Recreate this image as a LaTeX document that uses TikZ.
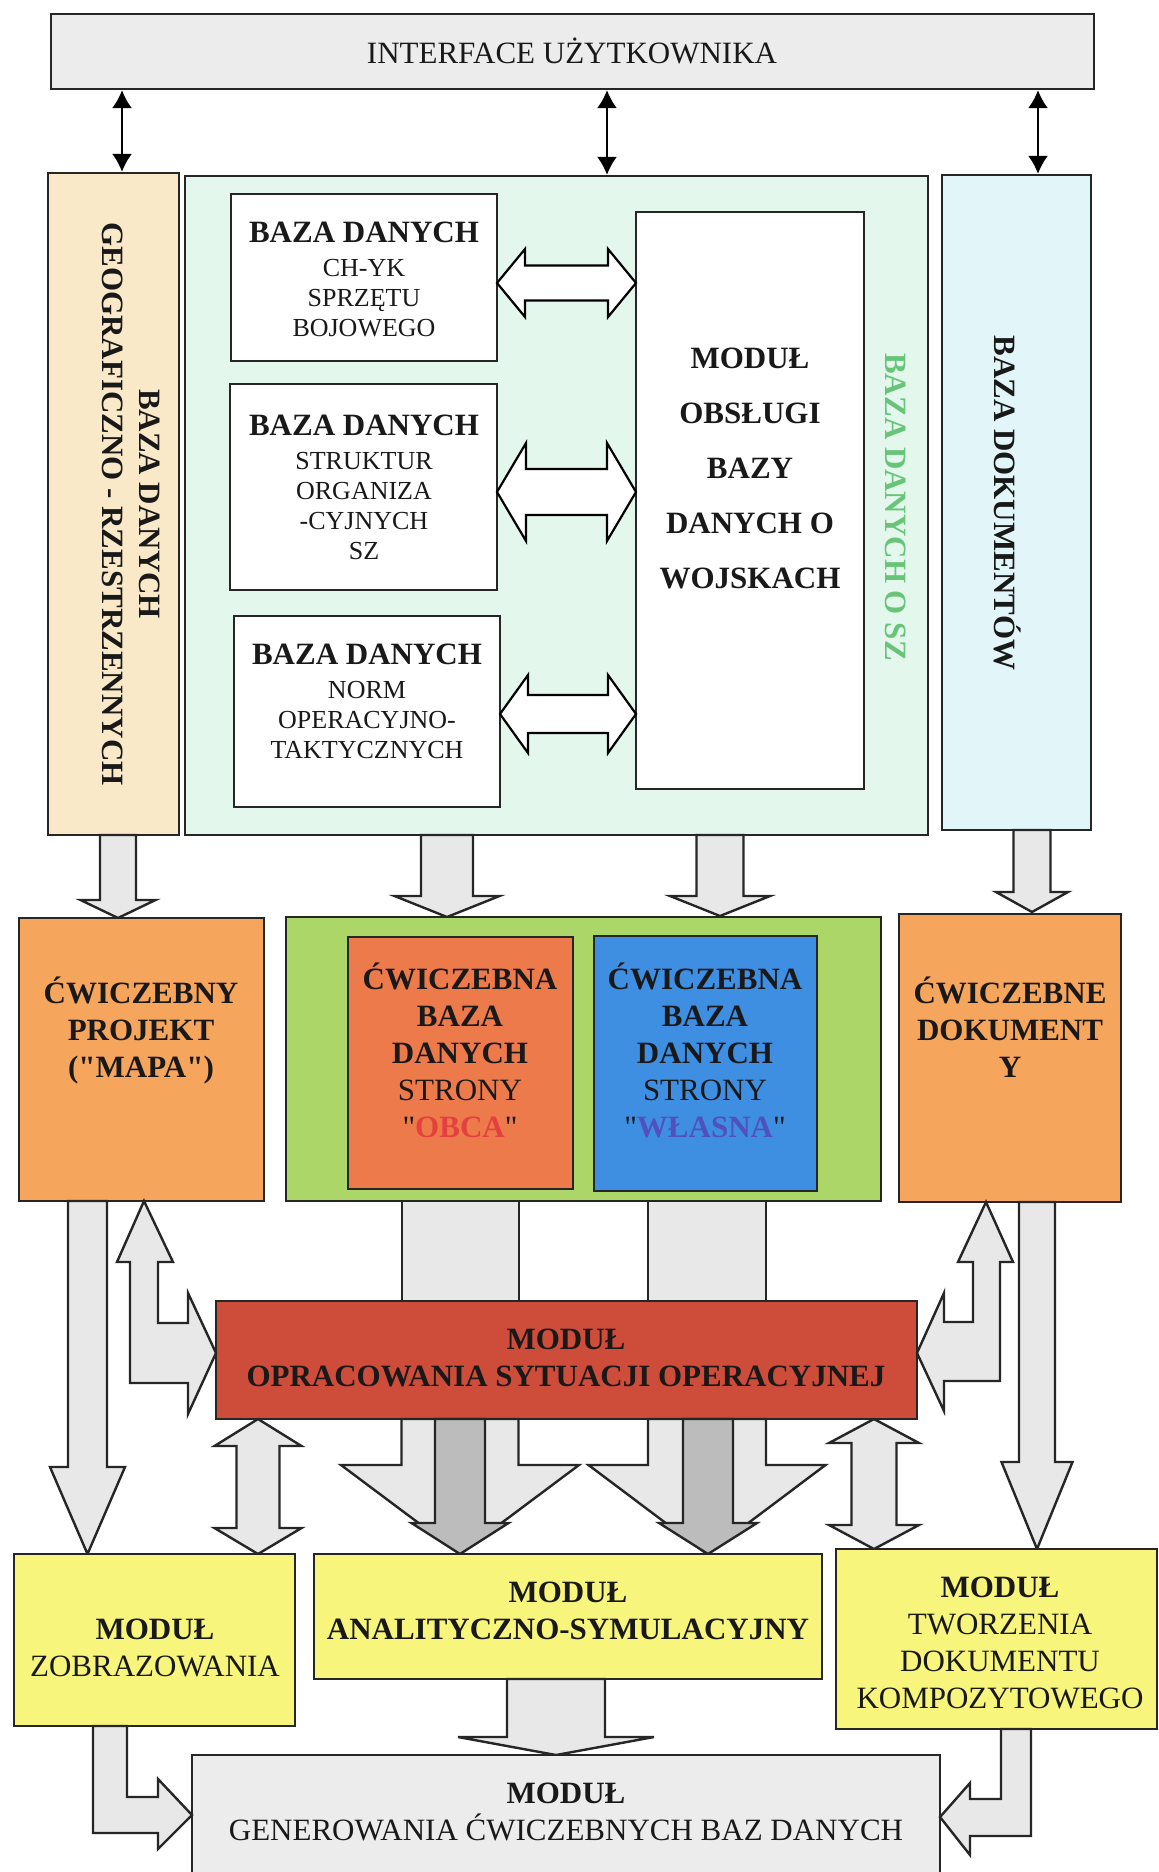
\documentclass[tikz,border=0pt]{standalone}
\usepackage{fontspec}
\setmainfont{Liberation Serif}[Ligatures=TeXOff]
\usetikzlibrary{arrows.meta,fit,calc}

\definecolor{txtcol}{RGB}{25,25,25}
\definecolor{ifgray}{RGB}{236,236,236}
\definecolor{geocol}{RGB}{249,233,200}
\definecolor{szcol}{RGB}{228,247,236}
\definecolor{dokcol}{RGB}{226,245,248}
\definecolor{sztext}{RGB}{104,196,120}
\definecolor{orangeA}{RGB}{246,166,92}
\definecolor{greenB}{RGB}{172,214,104}
\definecolor{obcacol}{RGB}{236,122,74}
\definecolor{wlcol}{RGB}{62,142,226}
\definecolor{obcared}{RGB}{228,64,64}
\definecolor{wlblue}{RGB}{80,80,190}
\definecolor{redmod}{RGB}{206,76,58}
\definecolor{yel}{RGB}{248,245,124}
\definecolor{arrgray}{RGB}{232,232,232}
\definecolor{arrdark}{RGB}{188,188,188}

\newcommand\fbold{\fontsize{15.5}{18.5}\selectfont\bfseries}
\newcommand\freg{\fontsize{15.5}{18.5}\selectfont}
\newcommand\fsmall{\fontsize{13}{15}\selectfont}

% down block arrow: x, ytop, ytip, shaft half, head half, head length, style
\newcommand\mkdarr[7]{%
  \path[#7] (#1-#4,#2) -- (#1-#4,#3-#6) -- (#1-#5,#3-#6) -- (#1,#3)
    -- (#1+#5,#3-#6) -- (#1+#4,#3-#6) -- (#1+#4,#2) -- cycle;}
% vertical double block arrow: x, ytop tip, ybottom tip, shaft half, head half, top head len, bottom head len
\newcommand\mkvdarr[7]{%
  \path[blk] (#1,#2) -- (#1+#5,#2+#6) -- (#1+#4,#2+#6) -- (#1+#4,#3-#7)
    -- (#1+#5,#3-#7) -- (#1,#3) -- (#1-#5,#3-#7) -- (#1-#4,#3-#7)
    -- (#1-#4,#2+#6) -- (#1-#5,#2+#6) -- cycle;}
% horizontal hollow double arrow: x1, x2, yc, shaft half, head half, head length
\newcommand\mkhdarr[6]{%
  \path[hol] (#1,#3) -- (#1+#6,#3-#5) -- (#1+#6,#3-#4) -- (#2-#6,#3-#4)
    -- (#2-#6,#3-#5) -- (#2,#3) -- (#2-#6,#3+#5) -- (#2-#6,#3+#4)
    -- (#1+#6,#3+#4) -- (#1+#6,#3+#5) -- cycle;}

\tikzset{
  box/.style={draw=black!85, line width=1.2pt, inner sep=0pt},
  blk/.style={draw=black!85, line width=1.2pt, fill=arrgray, line join=miter},
  blkdark/.style={draw=black!85, line width=1.2pt, fill=arrdark, line join=miter},
  hol/.style={draw=black, line width=1.1pt, fill=white, line join=miter},
  thinarr/.style={line width=0.9pt, draw=black,
    {Latex[length=9pt,width=10pt]}-{Latex[length=9pt,width=10pt]}},
  txt/.style={align=center, text=txtcol, inner sep=0pt},
}

\begin{document}
\begin{tikzpicture}[x=0.5pt,y=-0.5pt]
\useasboundingbox (0,0) rectangle (1158,1872);
\clip (0,0) rectangle (1158,1872);
\fill[white] (0,0) rectangle (1158,1872);

% ---------- top interface ----------
\node[box, fill=ifgray, fit={(51,14) (1094,89)}] (iface) {};
\node[txt, font=\freg] (iface-t) at (572,51) {INTERFACE UŻYTKOWNIKA};

% ---------- columns ----------
\node[box, fill=geocol, fit={(48,173) (179,835)}] (geo) {};
\node[box, fill=szcol, fit={(185,176) (928,835)}] (sz) {};
\node[box, fill=dokcol, fit={(942,175) (1091,830)}] (dok) {};

\node[txt, rotate=-90, font=\fbold] (geo-t) at (131,504)
  {BAZA DANYCH\\GEOGRAFICZNO - RZESTRZENNYCH};
\node[txt, rotate=-90, font=\fbold, text=sztext] (sz-t) at (896,507) {BAZA DANYCH O SZ};
\node[txt, rotate=-90, font=\fbold] (dok-t) at (1008,503) {BAZA DOKUMENTÓW};

% thin arrows
\coordinate (t1) at (122,0);
\coordinate (t2) at (607,0);
\coordinate (t3) at (1038,0);
\draw[thinarr] (iface.south -| t1) -- (geo.north -| t1);
\draw[thinarr] (iface.south -| t2) -- (sz.north -| t2);
\draw[thinarr] (iface.south -| t3) -- (dok.north -| t3);

% inner boxes
\node[box, fill=white, fit={(231,194) (497,361)}] (b1) {};
\node[box, fill=white, fit={(230,384) (497,590)}] (b2) {};
\node[box, fill=white, fit={(234,616) (500,807)}] (b3) {};
\node[box, fill=white, fit={(636,212) (864,789)}] (mod) {};

\node[txt, font=\fsmall] (b1-t) at (364,279)
  {{\fbold BAZA DANYCH}\\[2pt]CH-YK\\SPRZĘTU\\BOJOWEGO};
\node[txt, font=\fsmall] (b2-t) at (364,487)
  {{\fbold BAZA DANYCH}\\[2pt]STRUKTUR\\ORGANIZA\\-CYJNYCH\\SZ};
\node[txt, font=\fsmall] (b3-t) at (367,701)
  {{\fbold BAZA DANYCH}\\[2pt]NORM\\OPERACYJNO-\\TAKTYCZNYCH};
\node[txt, font=\fontsize{15.5}{27.5}\selectfont\bfseries] (mod-t) at (750,468)
  {MODUŁ\\OBSŁUGI\\BAZY\\DANYCH O\\WOJSKACH};

% hollow double arrows
\mkhdarr{497}{636}{283}{17.5}{34}{28}
\mkhdarr{497}{636}{492}{23}{49}{29}
\mkhdarr{500}{636}{714}{19}{39}{28}

% ---------- arrows row1 -> row2 ----------
\mkdarr{118}{835}{918}{18}{37.5}{18}{blk}
\mkdarr{447}{835}{917}{26}{52.5}{21}{blk}
\mkdarr{720}{835}{916}{23.5}{50}{20}{blk}
\mkdarr{1032}{830}{912}{18.5}{36}{20}{blk}

% ---------- row 2 ----------
\node[box, fill=orangeA, fit={(19,918) (264,1201)}] (proj) {};
\node[box, fill=greenB, fit={(286,917) (881,1201)}] (cwb) {};
\node[box, fill=obcacol, fit={(348,937) (573,1189)}] (obca) {};
\node[box, fill=wlcol, fit={(594,936) (817,1191)}] (wl) {};
\node[box, fill=orangeA, fit={(899,914) (1121,1202)}] (cdok) {};

\node[txt, font=\fbold] (proj-t) at (141,1030) {ĆWICZEBNY\\PROJEKT\\("MAPA")};
\node[txt, font=\freg] (obca-t) at (460,1050)
  {{\bfseries ĆWICZEBNA}\\{\bfseries BAZA}\\{\bfseries DANYCH}\\STRONY\\"\textcolor{obcared}{\bfseries OBCA}"};
\node[txt, font=\freg] (wl-t) at (705,1050)
  {{\bfseries ĆWICZEBNA}\\{\bfseries BAZA}\\{\bfseries DANYCH}\\STRONY\\"\textcolor{wlblue}{\bfseries WŁASNA}"};
\node[txt, font=\fbold] (cdok-t) at (1010,1027) {ĆWICZEBNE\\DOKUMENT\\Y};

% wide shafts into red module
\path[blk] (402,1201) rectangle (519,1301);
\path[blk] (648,1201) rectangle (766,1301);

% ---------- red module ----------
\node[box, fill=redmod, fit={(216,1301) (917,1419)}] (opr) {};
\node[txt, font=\fbold] (opr-t) at (566,1358) {MODUŁ\\OPRACOWANIA SYTUACJI OPERACYJNEJ};

% elbow double arrows
\path[blk] (144,1201) -- (173,1262) -- (158,1262) -- (158,1323) -- (188,1323)
  -- (188,1293) -- (216,1353) -- (188,1414) -- (188,1383) -- (130,1383)
  -- (130,1262) -- (117,1262) -- cycle;
\path[blk] (986,1202) -- (1013,1262) -- (1000,1262) -- (1000,1381) -- (944,1381)
  -- (944,1411) -- (917,1353) -- (944,1293) -- (944,1322) -- (973,1322)
  -- (973,1262) -- (958,1262) -- cycle;

% long down arrows
\mkdarr{87.5}{1201}{1554}{19.5}{37.5}{87}{blk}
\mkdarr{1037}{1202}{1549}{18}{35.5}{87}{blk}

% vertical double arrows
\mkvdarr{258}{1419}{1554}{21.5}{43.5}{27}{26}
\mkvdarr{874}{1419}{1549}{22.5}{45}{24}{24}

% big 3D arrows
\mkdarr{460}{1419}{1554}{58.5}{119}{89}{blk}
\mkdarr{460}{1419}{1554}{25}{48.5}{31}{blkdark}
\mkdarr{707}{1419}{1554}{59}{118.5}{89}{blk}
\mkdarr{708}{1419}{1554}{25}{49}{31}{blkdark}

% ---------- row 3 ----------
\node[box, fill=yel, fit={(14,1554) (295,1726)}] (zob) {};
\node[box, fill=yel, fit={(314,1554) (822,1679)}] (ana) {};
\node[box, fill=yel, fit={(836,1549) (1157,1729)}] (twor) {};

\node[txt, font=\freg] (zob-t) at (155,1648) {{\bfseries MODUŁ}\\ZOBRAZOWANIA};
\node[txt, font=\fbold] (ana-t) at (568,1611) {MODUŁ\\ANALITYCZNO-SYMULACYJNY};
\node[txt, font=\freg] (twor-t) at (1000,1643)
  {{\bfseries MODUŁ}\\TWORZENIA\\DOKUMENTU\\KOMPOZYTOWEGO};

% arrow analityczno -> generowania
\mkdarr{556}{1679}{1755}{49}{98}{18}{blk}

% ---------- bottom ----------
\node[box, fill=ifgray, fit={(192,1755) (940,1900)}] (gen) {};
\node[txt, font=\freg] (gen-t) at (566,1812)
  {{\bfseries MODUŁ}\\GENEROWANIA ĆWICZEBNYCH BAZ DANYCH};

% bottom elbow arrows
\path[blk] (93,1726) -- (127,1726) -- (127,1797) -- (158,1797) -- (158,1779)
  -- (192,1815) -- (158,1849) -- (158,1833) -- (93,1833) -- cycle;
\path[blk] (1031,1729) -- (1001,1729) -- (1001,1799) -- (970,1799) -- (970,1783)
  -- (940,1817) -- (970,1855) -- (970,1836) -- (1031,1836) -- cycle;

\end{tikzpicture}
\end{document}
